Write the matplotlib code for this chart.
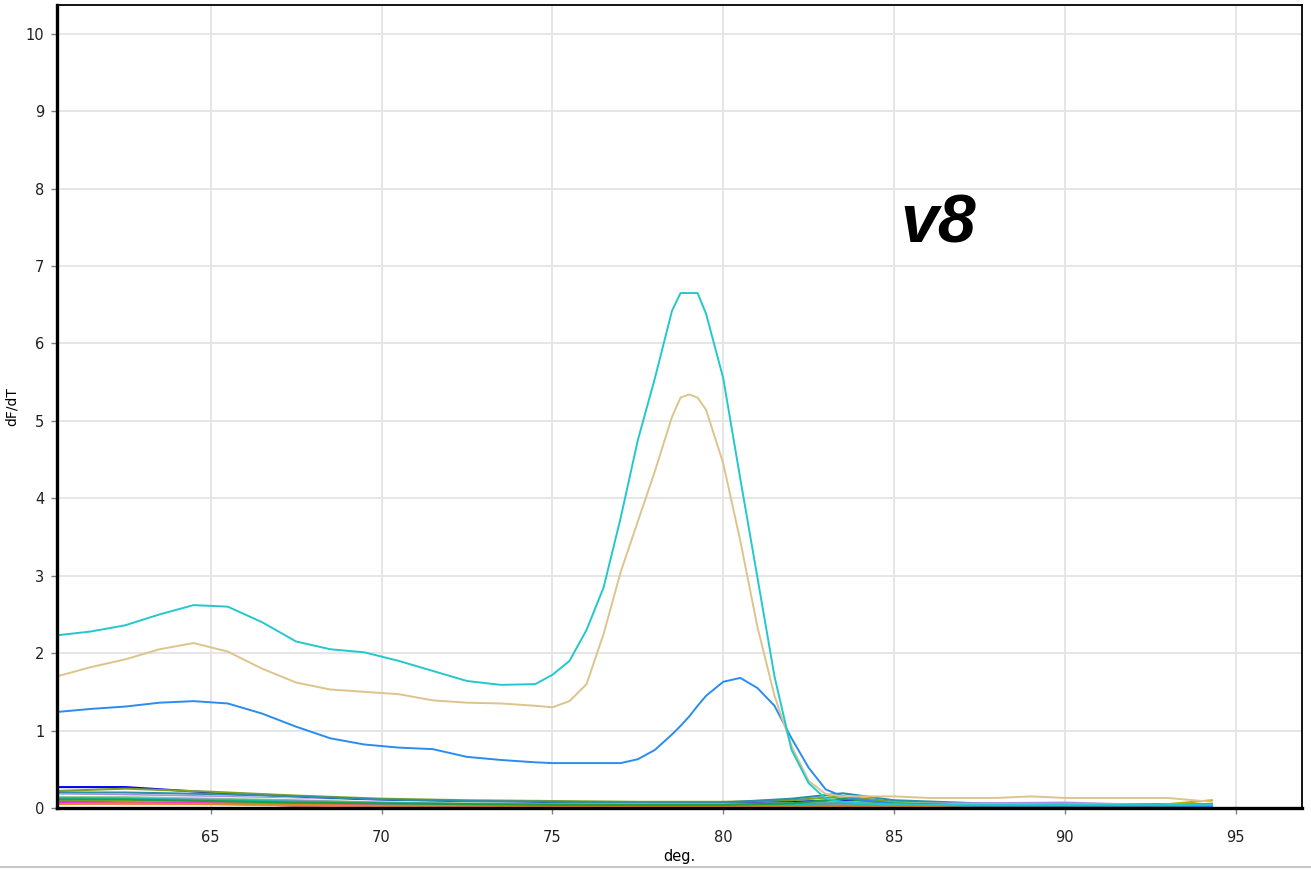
import matplotlib
matplotlib.use("Agg")
import matplotlib.pyplot as plt
from matplotlib.lines import Line2D

# ------------------------------------------------------------
# DATOS (leidos del grafico de fusion)
# ------------------------------------------------------------
temp = [60.5, 61.5, 62.5, 63.5, 64.5, 65.5, 66.5, 67.5, 68.5, 69.5,
        70.5, 71.5, 72.5, 73.5, 74.5, 75.0, 75.5, 76.0, 76.5, 77.0,
        77.5, 78.0, 78.5, 78.75, 79.0, 79.25, 79.5, 80.0, 80.5, 81.0,
        81.5, 82.0, 82.5, 83.0, 83.5, 84.0, 84.5, 85.0, 86.0, 87.0,
        88.0, 89.0, 90.0, 91.0, 92.0, 93.0, 94.3]

cian = [2.23, 2.28, 2.36, 2.50, 2.62, 2.60, 2.40, 2.15, 2.05, 2.01,
        1.90, 1.77, 1.64, 1.59, 1.60, 1.72, 1.90, 2.30, 2.85, 3.75,
        4.75, 5.55, 6.42, 6.65, 6.65, 6.65, 6.38, 5.55, 4.25, 2.98,
        1.70, 0.75, 0.32, 0.12, 0.08, 0.06, 0.05, 0.05, 0.04, 0.04,
        0.04, 0.04, 0.04, 0.04, 0.04, 0.04, 0.04]

beige = [1.70, 1.82, 1.92, 2.05, 2.13, 2.02, 1.80, 1.62, 1.53, 1.50,
         1.47, 1.39, 1.36, 1.35, 1.32, 1.30, 1.38, 1.60, 2.25, 3.05,
         3.70, 4.35, 5.05, 5.30, 5.34, 5.30, 5.14, 4.45, 3.45, 2.34,
         1.45, 0.80, 0.35, 0.18, 0.15, 0.15, 0.15, 0.15, 0.13, 0.13,
         0.13, 0.15, 0.13, 0.13, 0.13, 0.13, 0.08]

azul = [1.24, 1.28, 1.31, 1.36, 1.38, 1.35, 1.22, 1.05, 0.90, 0.82,
        0.78, 0.76, 0.66, 0.62, 0.59, 0.58, 0.58, 0.58, 0.58, 0.58,
        0.63, 0.75, 0.95, 1.06, 1.18, 1.32, 1.45, 1.63, 1.68, 1.55,
        1.32, 0.90, 0.52, 0.24, 0.15, 0.11, 0.08, 0.05, 0.04, 0.03,
        0.03, 0.03, 0.03, 0.03, 0.03, 0.03, 0.02]

# curvas de fondo (muestras sin producto)
temp_base = [60.5, 62.5, 65.0, 67.5, 70.0, 72.5, 75.0, 77.5, 80.0,
             82.0, 83.5, 85.0, 87.5, 90.0, 92.5, 94.3]

base_curvas = {
    "#0000ff": [0.27, 0.27, 0.20, 0.15, 0.10, 0.08, 0.07, 0.06, 0.06, 0.08, 0.10, 0.05, 0.04, 0.04, 0.04, 0.04],
    "#7fa020": [0.22, 0.25, 0.21, 0.16, 0.12, 0.10, 0.09, 0.08, 0.08, 0.10, 0.15, 0.08, 0.05, 0.05, 0.05, 0.05],
    "#2a8fa8": [0.20, 0.20, 0.18, 0.15, 0.11, 0.09, 0.08, 0.07, 0.07, 0.12, 0.19, 0.10, 0.06, 0.05, 0.05, 0.05],
    "#a890e0": [0.18, 0.17, 0.15, 0.12, 0.08, 0.06, 0.05, 0.05, 0.05, 0.06, 0.06, 0.06, 0.06, 0.07, 0.04, 0.03],
    "#ffffff": [0.16, 0.15, 0.13, 0.11, 0.08, 0.06, 0.05, 0.05, 0.04, 0.05, 0.05, 0.04, 0.04, 0.04, 0.04, 0.04],
    "#8cc88c": [0.14, 0.14, 0.12, 0.10, 0.07, 0.06, 0.05, 0.05, 0.05, 0.06, 0.08, 0.07, 0.04, 0.04, 0.04, 0.04],
    "#9090c8": [0.12, 0.12, 0.11, 0.09, 0.07, 0.05, 0.05, 0.04, 0.04, 0.05, 0.07, 0.05, 0.03, 0.03, 0.03, 0.03],
    "#000000": [0.07, 0.10, 0.07, 0.03, 0.02, 0.02, 0.02, 0.02, 0.02, 0.02, 0.02, 0.02, 0.02, 0.02, 0.02, 0.02],
    "#d01010": [0.09, 0.10, 0.08, 0.06, 0.04, 0.03, 0.03, 0.03, 0.03, 0.03, 0.03, 0.03, 0.03, 0.03, 0.03, 0.03],
    "#ff8888": [0.06, 0.05, 0.05, 0.03, 0.02, 0.02, 0.02, 0.02, 0.02, 0.02, 0.02, 0.02, 0.02, 0.02, 0.02, 0.02],
    "#c0b000": [0.10, 0.09, 0.07, 0.06, 0.04, 0.04, 0.03, 0.03, 0.03, 0.04, 0.06, 0.04, 0.03, 0.04, 0.03, 0.10],
    "#ff20ff": [0.08, 0.07, 0.06, 0.05, 0.04, 0.03, 0.03, 0.03, 0.03, 0.03, 0.03, 0.02, 0.02, 0.02, 0.02, 0.02],
    "#10c0c0": [0.13, 0.12, 0.10, 0.08, 0.06, 0.05, 0.04, 0.04, 0.04, 0.05, 0.06, 0.04, 0.03, 0.03, 0.03, 0.03],
    "#e08a20": [0.05, 0.06, 0.05, 0.04, 0.03, 0.03, 0.02, 0.02, 0.02, 0.02, 0.02, 0.02, 0.02, 0.02, 0.02, 0.02],
    "#20a040": [0.11, 0.11, 0.09, 0.07, 0.06, 0.05, 0.04, 0.04, 0.04, 0.06, 0.12, 0.06, 0.03, 0.03, 0.03, 0.03],
}

xticks = [65, 70, 75, 80, 85, 90, 95]
yticks = [0, 1, 2, 3, 4, 5, 6, 7, 8, 9, 10]

# ------------------------------------------------------------
# GRAFICO
# ------------------------------------------------------------
plt.rcParams['font.family'] = ['DejaVu Sans']
fig = plt.figure(figsize=(13.11, 8.71), dpi=100)
ax = fig.add_axes([57 / 1311, 1 - 808 / 871, (1302 - 57) / 1311, (808 - 5) / 871])

for color, vals in base_curvas.items():
    ax.plot(temp_base, vals, color=color, lw=1.5)

ax.plot(temp, azul, color='#2a8cf0', lw=1.4)
ax.plot(temp, beige, color='#dcc48c', lw=1.4)
ax.plot(temp, cian, color='#22c8cc', lw=1.4)

ax.set_xlim(60.5, 96.94)
ax.set_ylim(0, 10.37)
ax.set_xticks(xticks)
ax.set_yticks(yticks)
ax.grid(True, color='#e4e4e4', lw=1.3)
ax.set_axisbelow(True)

ax.tick_params(axis='both', colors='#808080', labelcolor='#202020', labelsize=10.5,
               length=4, width=1)
ax.tick_params(axis='x', pad=12)
ax.tick_params(axis='y', pad=5)

for lado, ancho in (('left', 2.4), ('bottom', 2.4), ('top', 1.3), ('right', 1.3)):
    ax.spines[lado].set_color('black')
    ax.spines[lado].set_linewidth(ancho)

ax.set_xlabel('deg.', fontsize=10.5, labelpad=3)
ax.set_ylabel('dF/dT', fontsize=10, labelpad=5)

ax.text(85.17, 7.30, 'v8', fontsize=49, fontweight='bold', fontstyle='italic',
        family='Liberation Sans', ha='left', va='baseline')

# linea gris inferior de la ventana
fig.add_artist(Line2D([0, 1], [1 - 867 / 871, 1 - 867 / 871], color='#c8c8c8', lw=1.5))

fig.savefig('out.png', dpi=100)
